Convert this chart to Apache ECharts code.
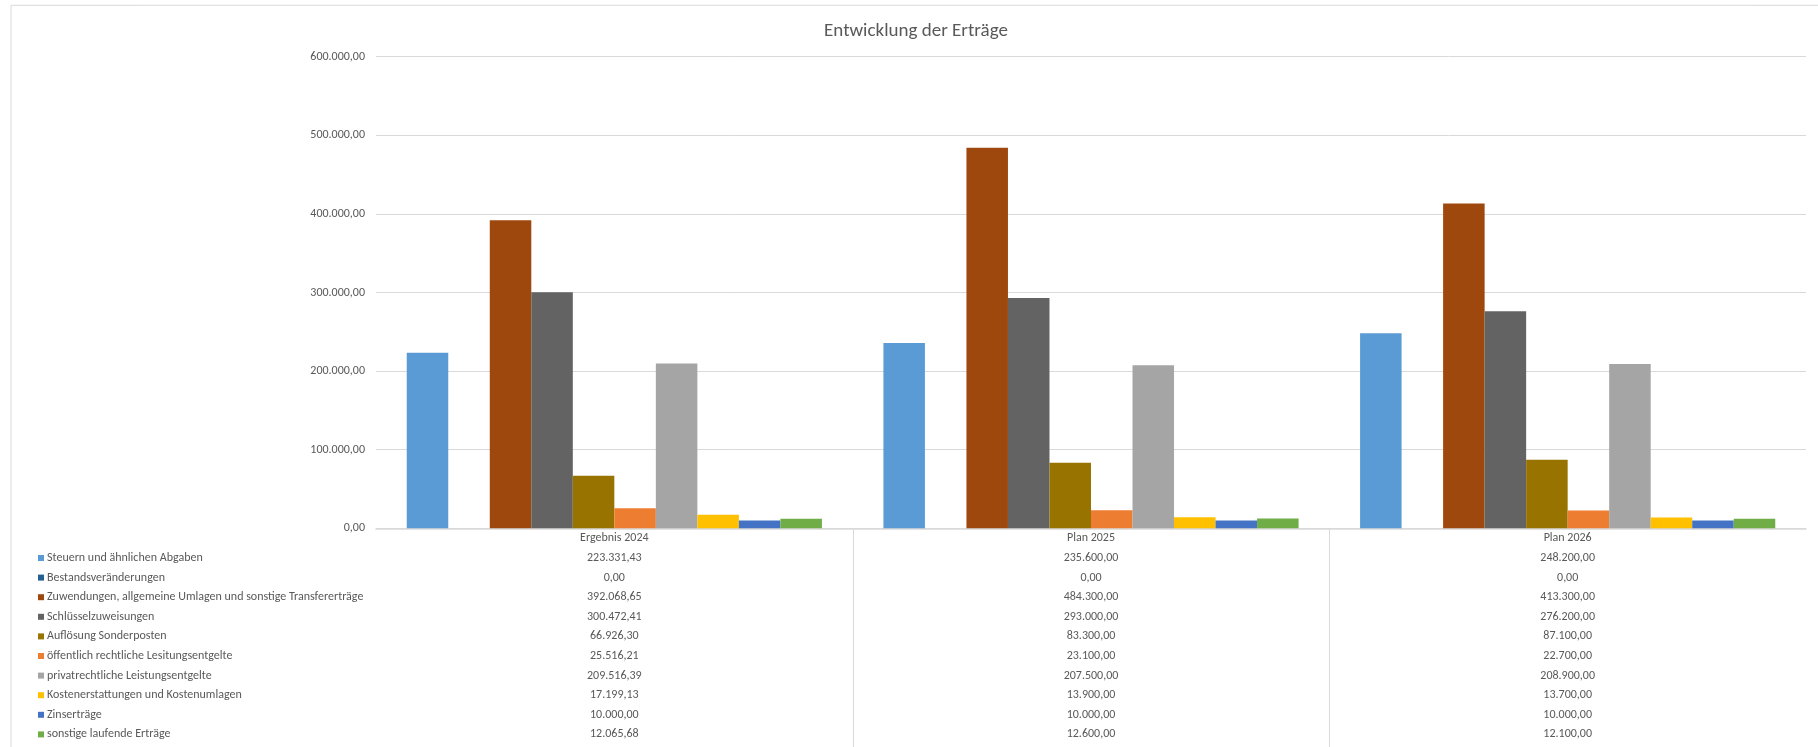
<!DOCTYPE html>
<html>
<head>
<meta charset="utf-8">
<script src="https://cdn.jsdelivr.net/npm/echarts@6/dist/echarts.min.js"></script>
<style>
html,body{margin:0;padding:0;background:#fff;}
#chart{width:1818px;height:747px;}
</style>
</head>
<body>
<div id="chart"></div>
<script>
const categories = ['Ergebnis 2024', 'Plan 2025', 'Plan 2026'];
const seriesNames = [
  'Steuern und ähnlichen Abgaben',
  'Bestandsveränderungen',
  'Zuwendungen, allgemeine Umlagen und sonstige Transfererträge',
  'Schlüsselzuweisungen',
  'Auflösung Sonderposten',
  'öffentlich rechtliche Lesitungsentgelte',
  'privatrechtliche Leistungsentgelte',
  'Kostenerstattungen und Kostenumlagen',
  'Zinserträge',
  'sonstige laufende Erträge'
];
const steuern = [223331.43, 235600.00, 248200.00];
const bestand = [0.00, 0.00, 0.00];
const zuwendungen = [392068.65, 484300.00, 413300.00];
const schluessel = [300472.41, 293000.00, 276200.00];
const aufloesung = [66926.30, 83300.00, 87100.00];
const oeffentlich = [25516.21, 23100.00, 22700.00];
const privat = [209516.39, 207500.00, 208900.00];
const kosten = [17199.13, 13900.00, 13700.00];
const zins = [10000.00, 10000.00, 10000.00];
const sonstige = [12065.68, 12600.00, 12100.00];
const yTicks = [0, 100000, 200000, 300000, 400000, 500000, 600000];

const seriesData = [steuern, bestand, zuwendungen, schluessel, aufloesung, oeffentlich, privat, kosten, zins, sonstige];
const colors = ['#5B9BD5', '#255E91', '#9E480E', '#636363', '#997300', '#ED7D31', '#A5A5A5', '#FFC000', '#4472C4', '#70AD47'];

function fmt(v) {
  const s = Number(v).toFixed(2);
  const parts = s.split('.');
  const intPart = parts[0].replace(/\B(?=(\d{3})+(?!\d))/g, '.');
  return intPart + ',' + parts[1];
}

const FONT = 'Carlito, Lato, sans-serif';
const TXT = '#595959';
const ROW = 19.6;
const FS = 12;

const chart = echarts.init(document.getElementById('chart'), null, {renderer: 'canvas'});

const xAxes = [{
  type: 'category',
  data: categories,
  gridIndex: 0,
  position: 'bottom',
  axisLine: {show: true, lineStyle: {color: '#D9D9D9', width: 1.5}},
  axisTick: {show: false},
  axisLabel: {color: TXT, fontFamily: FONT, fontSize: FS, margin: 4}
}];
seriesData.forEach(function (arr, k) {
  xAxes.push({
    type: 'category',
    data: categories,
    gridIndex: 0,
    position: 'bottom',
    offset: ROW * (k + 1),
    axisLine: {show: false},
    axisTick: {show: false},
    splitLine: {show: false},
    axisLabel: {
      color: TXT, fontFamily: FONT, fontSize: FS, margin: 4,
      formatter: function (val, idx) { return fmt(arr[idx]); }
    }
  });
});

const option = {
  animation: false,
  color: colors,
  title: {
    text: 'Entwicklung der Erträge',
    left: 911,
    top: 17,
    textAlign: 'center',
    textStyle: {color: TXT, fontFamily: FONT, fontSize: 19, fontWeight: 'normal'}
  },
  grid: {left: 376, right: 12, top: 56.7, bottom: 218.7, containLabel: false},
  legend: {
    orient: 'vertical',
    left: 38,
    top: 551,
    height: 260,
    padding: 0,
    icon: 'rect',
    itemWidth: 6,
    itemHeight: 6,
    itemGap: ROW - 14,
    selectedMode: false,
    data: seriesNames,
    textStyle: {color: TXT, fontFamily: FONT, fontSize: FS, lineHeight: 14, padding: [0, 0, 0, -2]}
  },
  xAxis: xAxes,
  yAxis: {
    type: 'value',
    min: yTicks[0],
    max: yTicks[yTicks.length - 1],
    interval: yTicks[1] - yTicks[0],
    axisLine: {show: false},
    axisTick: {show: false},
    splitLine: {lineStyle: {color: '#D9D9D9', width: 1}},
    axisLabel: {color: TXT, fontFamily: FONT, fontSize: FS, margin: 11, formatter: function (v) { return fmt(v); }}
  },
  series: seriesNames.map(function (name, k) {
    return {
      name: name,
      type: 'bar',
      xAxisIndex: 0,
      data: seriesData[k],
      barGap: '0%',
      barCategoryGap: '12.9%',
      itemStyle: {color: colors[k]}
    };
  })
};
chart.setOption(option);

// border and data-table vertical separators
const graphics = [{
  type: 'rect',
  shape: {x: 11, y: 5.3, width: 1830, height: 800},
  style: {fill: 'none', stroke: '#D9D9D9', lineWidth: 1},
  silent: true,
  z: -10
}];
const axisY = chart.convertToPixel({yAxisIndex: 0}, 0);
for (let i = 0; i < categories.length - 1; i++) {
  const x0 = chart.convertToPixel({xAxisIndex: 0}, categories[i]);
  const x1 = chart.convertToPixel({xAxisIndex: 0}, categories[i + 1]);
  const xb = Math.round((x0 + x1) / 2) + 0.5;
  graphics.push({
    type: 'line',
    shape: {x1: xb, y1: axisY, x2: xb, y2: 760},
    style: {stroke: '#D9D9D9', lineWidth: 1},
    silent: true
  });
}
chart.setOption({graphic: graphics});
</script>
</body>
</html>
